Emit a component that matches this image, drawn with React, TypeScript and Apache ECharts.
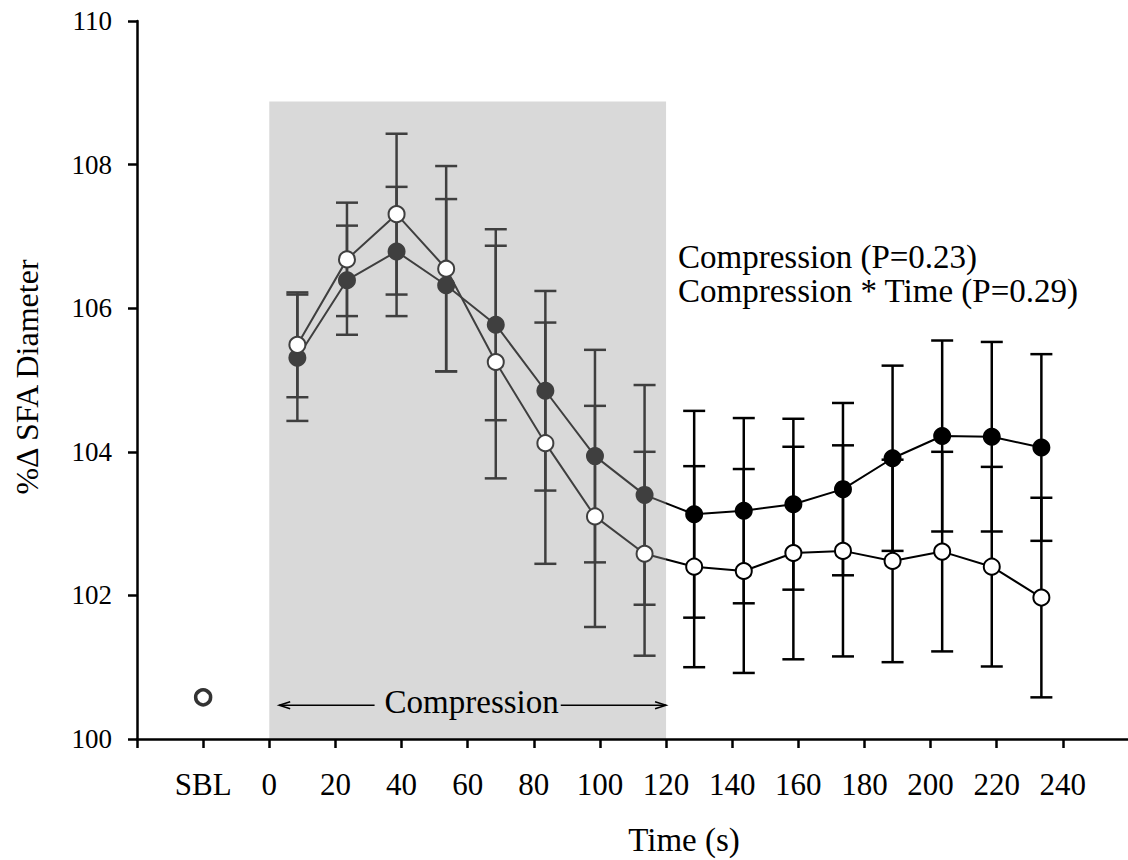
import React, { useEffect, useRef } from "react";
import * as echarts from "echarts";

// ---- data ----
const timePoints = [8.5, 23.5, 38.5, 53.5, 68.5, 83.5, 98.5, 113.5, 128.5, 143.5, 158.5, 173.5, 188.5, 203.5, 218.5, 233.5];
const filledMean = [105.31, 106.39, 106.79, 106.32, 105.77, 104.85, 103.94, 103.40, 103.13, 103.18, 103.27, 103.48, 103.91, 104.22, 104.21, 104.06];
const filledSE = [0.88, 0.76, 0.90, 1.20, 1.33, 1.39, 1.48, 1.53, 1.44, 1.29, 1.19, 1.20, 1.29, 1.33, 1.32, 1.30];
const openMean = [105.49, 106.68, 107.31, 106.55, 105.25, 104.12, 103.10, 102.58, 102.40, 102.34, 102.59, 102.62, 102.48, 102.61, 102.40, 101.97];
const openSE = [0.73, 0.79, 1.12, 1.43, 1.62, 1.68, 1.54, 1.42, 1.40, 1.42, 1.48, 1.47, 1.41, 1.39, 1.39, 1.39];
const sblPoint = [-20, 100.58];

const xRange = [-40, 260];
const hiddenXLabels = [-40, 260];
const compressionWindow = [0, 120];
const compressionShadeTop = 108.88;
const compressionArrow = [3, 120, 100.47];
const compressionLabel = [60, 100.51];

const FONT = '"Liberation Serif", "Times New Roman", serif';
const SHADE = "#d9d9d9";
const INSIDE = "#3f3f3f";

export default function App() {
  const ref = useRef<HTMLDivElement>(null);

  useEffect(() => {
    if (!ref.current) return;
    const chart = echarts.init(ref.current, undefined, { renderer: "svg" });

    const errData: number[][] = [];
    timePoints.forEach((t, i) => {
      errData.push([t, filledMean[i], filledSE[i]]);
      errData.push([t, openMean[i], openSE[i]]);
    });

    const option: any = {
      animation: false,
      backgroundColor: "#fff",
      grid: { left: 137, right: 0, top: 21, bottom: 121 },
      xAxis: {
        type: "value",
        min: xRange[0],
        max: xRange[1],
        interval: 20,
        splitLine: { show: false },
        axisLine: { show: true, onZero: false, lineStyle: { color: "#000", width: 2.5 } },
        axisTick: { show: true, inside: false, length: 9, lineStyle: { color: "#000", width: 2.5 } },
        axisLabel: {
          margin: 30,
          color: "#000",
          fontFamily: FONT,
          fontSize: 31,
          showMinLabel: true,
          showMaxLabel: true,
          formatter: (v: number) => (hiddenXLabels.indexOf(v) >= 0 ? "" : v === -20 ? "SBL" : String(v)),
        },
      },
      yAxis: {
        type: "value",
        min: 100,
        max: 110,
        interval: 2,
        splitLine: { show: false },
        axisLine: { show: true, onZero: false, lineStyle: { color: "#000", width: 2.5 } },
        axisTick: { show: true, inside: false, length: 9, lineStyle: { color: "#000", width: 2.5 } },
        axisLabel: { margin: 25, color: "#000", fontFamily: FONT, fontSize: 27 },
      },
      visualMap: [
        {
          type: "piecewise",
          show: false,
          dimension: 0,
          seriesIndex: [2, 3],
          pieces: [
            { gte: xRange[0], lt: compressionWindow[1], color: INSIDE },
            { gte: compressionWindow[1], lte: xRange[1], color: "#000" },
          ],
        },
      ],
      graphic: [
        {
          type: "text",
          x: 27,
          y: 377,
          rotation: Math.PI / 2,
          style: { text: "%Δ SFA Diameter", font: `32px ${FONT}`, fill: "#000", align: "center", verticalAlign: "middle" },
        },
        {
          type: "text",
          x: 684,
          y: 840,
          style: { text: "Time (s)", font: `33px ${FONT}`, fill: "#000", align: "center", verticalAlign: "middle" },
        },
        {
          type: "text",
          x: 678,
          y: 257,
          style: { text: "Compression (P=0.23)", font: `33px ${FONT}`, fill: "#000", align: "left", verticalAlign: "middle" },
        },
        {
          type: "text",
          x: 678,
          y: 291,
          style: { text: "Compression * Time (P=0.29)", font: `33px ${FONT}`, fill: "#000", align: "left", verticalAlign: "middle" },
        },
      ],
      series: [
        {
          type: "custom",
          coordinateSystem: "cartesian2d",
          z: 0,
          silent: true,
          encode: { x: [0, 1], y: [2, 3] },
          data: [[compressionWindow[0], compressionWindow[1], 100, compressionShadeTop]],
          renderItem: (params: any, api: any) => {
            const p1 = api.coord([api.value(0), api.value(3)]);
            const p2 = api.coord([api.value(1), api.value(2)]);
            return {
              type: "rect",
              shape: { x: p1[0], y: p1[1], width: p2[0] - p1[0], height: p2[1] - p1[1] },
              style: { fill: SHADE },
            };
          },
        },
        {
          type: "custom",
          coordinateSystem: "cartesian2d",
          z: 1,
          silent: true,
          encode: { x: 0, y: 1 },
          data: errData,
          renderItem: (params: any, api: any) => {
            const x = api.value(0);
            const m = api.value(1);
            const se = api.value(2);
            const top = api.coord([x, m + se]);
            const bot = api.coord([x, m - se]);
            const col = x < compressionWindow[1] ? INSIDE : "#000";
            const half = 11;
            const st = { stroke: col, lineWidth: 2.5 };
            return {
              type: "group",
              children: [
                { type: "line", shape: { x1: top[0], y1: top[1], x2: bot[0], y2: bot[1] }, style: st },
                { type: "line", shape: { x1: top[0] - half, y1: top[1], x2: top[0] + half, y2: top[1] }, style: st },
                { type: "line", shape: { x1: bot[0] - half, y1: bot[1], x2: bot[0] + half, y2: bot[1] }, style: st },
              ],
            };
          },
        },
        {
          type: "line",
          z: 3,
          data: timePoints.map((t, i) => [t, filledMean[i]]),
          symbol: "circle",
          symbolSize: 18,
          lineStyle: { width: 2 },
          itemStyle: { borderWidth: 0 },
        },
        {
          type: "line",
          z: 4,
          data: timePoints.map((t, i) => [t, openMean[i]]),
          symbol: "emptyCircle",
          symbolSize: 16,
          lineStyle: { width: 2 },
          itemStyle: { borderWidth: 2 },
        },
        {
          type: "scatter",
          z: 4,
          data: [sblPoint],
          symbol: "circle",
          symbolSize: 15,
          itemStyle: { color: "#fff", borderColor: "#000", borderWidth: 3.5 },
        },
        {
          type: "custom",
          coordinateSystem: "cartesian2d",
          z: 2,
          silent: true,
          encode: { x: [0, 1, 3], y: [2, 4] },
          data: [[compressionArrow[0], compressionArrow[1], compressionArrow[2], compressionLabel[0], compressionLabel[1]]],
          renderItem: (params: any, api: any) => {
            const a = api.coord([api.value(0), api.value(2)]);
            const b = api.coord([api.value(1), api.value(2)]);
            const c = api.coord([api.value(3), api.value(4)]);
            const st = { stroke: "#000", lineWidth: 1.5, fill: "none" };
            return {
              type: "group",
              children: [
                { type: "line", shape: { x1: a[0], y1: a[1], x2: b[0], y2: b[1] }, style: st },
                { type: "polyline", shape: { points: [[a[0] + 11, a[1] - 3.5], [a[0], a[1]], [a[0] + 11, a[1] + 3.5]] }, style: st },
                { type: "polyline", shape: { points: [[b[0] - 11, b[1] - 3.5], [b[0], b[1]], [b[0] - 11, b[1] + 3.5]] }, style: st },
                {
                  type: "text",
                  x: c[0],
                  y: c[1],
                  style: {
                    text: "Compression",
                    font: `33px ${FONT}`,
                    fill: "#000",
                    align: "center",
                    verticalAlign: "middle",
                    backgroundColor: SHADE,
                    padding: [0, 2, 0, 10],
                  },
                },
              ],
            };
          },
        },
      ],
    };

    chart.setOption(option);
    return () => chart.dispose();
  }, []);

  return (
    <div style={{ position: "absolute", left: 0, top: 0, width: 1128, height: 860, overflow: "hidden", background: "#fff" }}>
      <div ref={ref} style={{ width: 1132, height: 860 }} />
    </div>
  );
}
